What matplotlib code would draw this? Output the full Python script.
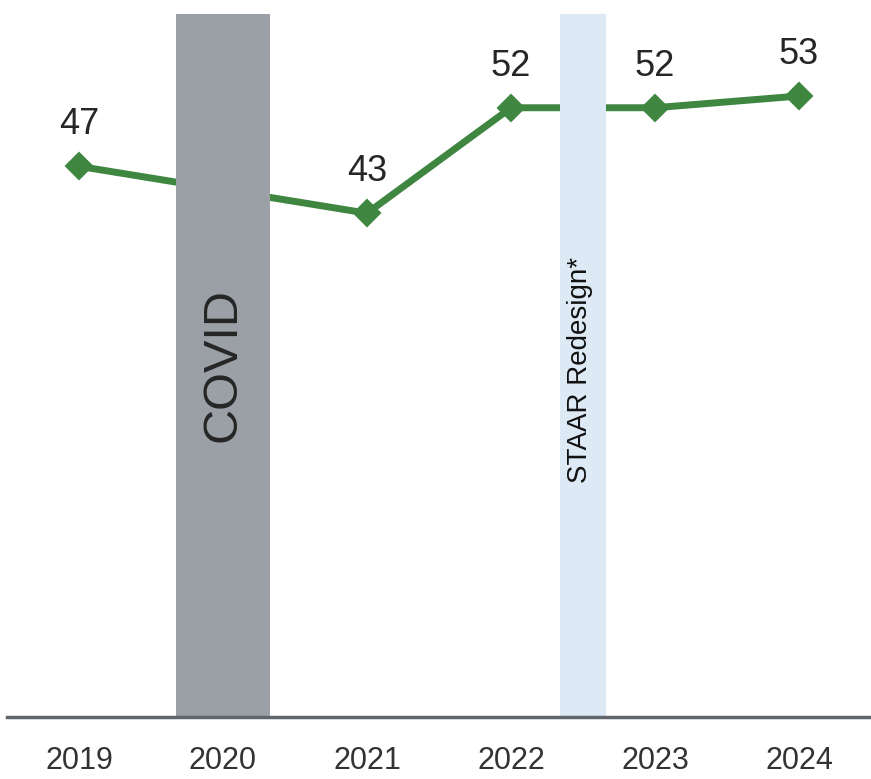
import matplotlib
matplotlib.use('Agg')
import matplotlib.pyplot as plt

# data
years = [2019, 2021, 2022, 2023, 2024]
scores = [47, 43, 52, 52, 53]
tick_years = [2019, 2020, 2021, 2022, 2023, 2024]
tick_labels = ['2019', '2020', '2021', '2022', '2023', '2024']
covid_year = 2020
redesign_year = 2022.5

plt.rcParams['font.family'] = ['Liberation Sans', 'DejaVu Sans']

fig = plt.figure(figsize=[8.71, 7.79], dpi=100)
ax = fig.add_axes([7 / 871, 62 / 779, 864 / 871, 703 / 779])

ax.plot(years, scores, color='#3f8640', lw=5, marker='D', ms=13,
        mec='#3f8640', mew=1.5, zorder=2)
for x, y in zip(years, scores):
    ax.annotate(str(y), xy=(x, y), xytext=(0, 30), textcoords='offset points',
                ha='center', va='center', fontsize=26, color='#262626')

# shaded periods (drawn over the line)
ax.axvspan(covid_year - 0.325, covid_year + 0.325, color='#9aa0a6', lw=0, zorder=3)
ax.axvspan(redesign_year - 0.16, redesign_year + 0.16, color='#dde9f4', lw=0, zorder=3)
ax.text(covid_year, 30, 'COVID', rotation=90, ha='center', va='center',
        fontsize=35, color='#262626', zorder=4)
ax.text(redesign_year - 0.02, 29.6, 'STAAR Redesign*', rotation=90, ha='center',
        va='center', fontsize=20, color='#111111', zorder=4)

ax.set_xlim(2018.5, 2024.5)
ax.set_ylim(0, 60)
ax.set_xticks(tick_years)
ax.set_xticklabels(tick_labels)
ax.set_yticks([])
ax.tick_params(axis='x', length=0, pad=21, labelsize=22, labelcolor='#333333')
for s in ['top', 'right', 'left']:
    ax.spines[s].set_visible(False)
ax.spines['bottom'].set_color('#5f666d')
ax.spines['bottom'].set_linewidth(2.5)
ax.spines['bottom'].set_zorder(5)

plt.savefig('out.png', dpi=100)
